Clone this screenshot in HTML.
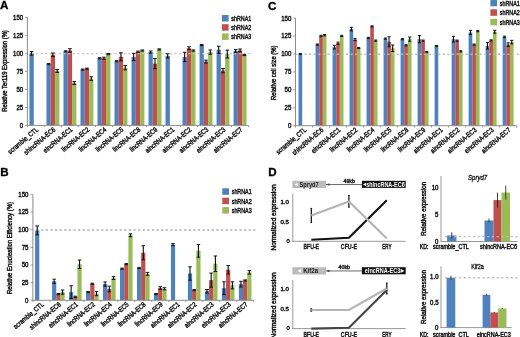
<!DOCTYPE html>
<html><head><meta charset="utf-8"><style>
html,body{margin:0;padding:0;background:#fff;width:520px;height:337px;overflow:hidden;}
svg{display:block;filter:blur(0.3px);font-family:"Liberation Sans",sans-serif;}
</style></head><body>
<svg width="520" height="337" viewBox="0 0 520 337" font-family="Liberation Sans, sans-serif">
<rect width="520" height="337" fill="#fff"/>
<rect x="29.46" y="53.33" width="4.3" height="72.07" fill="#4f81bd"/>
<rect x="46.47" y="64.14" width="4.3" height="61.26" fill="#4f81bd"/>
<rect x="50.77" y="54.77" width="4.3" height="70.63" fill="#c0504d"/>
<rect x="55.07" y="70.99" width="4.3" height="54.41" fill="#9bbb59"/>
<rect x="63.48" y="51.39" width="4.3" height="74.01" fill="#4f81bd"/>
<rect x="67.78" y="50.45" width="4.3" height="74.95" fill="#c0504d"/>
<rect x="72.08" y="83.02" width="4.3" height="42.38" fill="#9bbb59"/>
<rect x="80.48" y="69.62" width="4.3" height="55.78" fill="#4f81bd"/>
<rect x="84.78" y="68.68" width="4.3" height="56.72" fill="#c0504d"/>
<rect x="89.08" y="78.56" width="4.3" height="46.84" fill="#9bbb59"/>
<rect x="97.49" y="58.23" width="4.3" height="67.17" fill="#4f81bd"/>
<rect x="101.79" y="58.23" width="4.3" height="67.17" fill="#c0504d"/>
<rect x="106.09" y="54.13" width="4.3" height="71.27" fill="#9bbb59"/>
<rect x="114.51" y="61.26" width="4.3" height="64.14" fill="#4f81bd"/>
<rect x="118.81" y="56.79" width="4.3" height="68.61" fill="#c0504d"/>
<rect x="123.11" y="67.75" width="4.3" height="57.65" fill="#9bbb59"/>
<rect x="131.52" y="56.94" width="4.3" height="68.46" fill="#4f81bd"/>
<rect x="135.82" y="51.82" width="4.3" height="73.58" fill="#c0504d"/>
<rect x="140.12" y="50.52" width="4.3" height="74.88" fill="#9bbb59"/>
<rect x="148.53" y="52.11" width="4.3" height="73.29" fill="#4f81bd"/>
<rect x="152.83" y="63.57" width="4.3" height="61.83" fill="#c0504d"/>
<rect x="157.13" y="49.44" width="4.3" height="75.96" fill="#9bbb59"/>
<rect x="165.54" y="55.93" width="4.3" height="69.47" fill="#4f81bd"/>
<rect x="182.55" y="56.94" width="4.3" height="68.46" fill="#4f81bd"/>
<rect x="186.85" y="48.22" width="4.3" height="77.18" fill="#c0504d"/>
<rect x="191.15" y="50.52" width="4.3" height="74.88" fill="#9bbb59"/>
<rect x="199.56" y="45.12" width="4.3" height="80.28" fill="#4f81bd"/>
<rect x="203.86" y="61.55" width="4.3" height="63.85" fill="#c0504d"/>
<rect x="208.16" y="52.11" width="4.3" height="73.29" fill="#9bbb59"/>
<rect x="216.57" y="49.8" width="4.3" height="75.6" fill="#4f81bd"/>
<rect x="220.87" y="70.63" width="4.3" height="54.77" fill="#c0504d"/>
<rect x="225.17" y="54.05" width="4.3" height="71.35" fill="#9bbb59"/>
<rect x="233.58" y="51.03" width="4.3" height="74.37" fill="#4f81bd"/>
<rect x="237.88" y="50.45" width="4.3" height="74.95" fill="#c0504d"/>
<rect x="242.18" y="54.99" width="4.3" height="70.41" fill="#9bbb59"/>
<line x1="31.23" y1="53.63" x2="250.25" y2="53.63" stroke="#c2c2c2" stroke-width="1.4" stroke-dasharray="2.1 2.52"/>
<line x1="31.61" y1="51.53" x2="31.61" y2="55.14" stroke="#000" stroke-width="1.05"/>
<line x1="29.8" y1="51.53" x2="33.41" y2="51.53" stroke="#151515" stroke-width="1"/>
<line x1="29.8" y1="55.14" x2="33.41" y2="55.14" stroke="#151515" stroke-width="1"/>
<line x1="48.62" y1="63.57" x2="48.62" y2="64.72" stroke="#000" stroke-width="1.05"/>
<line x1="46.81" y1="63.57" x2="50.42" y2="63.57" stroke="#151515" stroke-width="1"/>
<line x1="46.81" y1="64.72" x2="50.42" y2="64.72" stroke="#151515" stroke-width="1"/>
<line x1="52.91" y1="52.97" x2="52.91" y2="56.58" stroke="#000" stroke-width="1.05"/>
<line x1="51.11" y1="52.97" x2="54.72" y2="52.97" stroke="#151515" stroke-width="1"/>
<line x1="51.11" y1="56.58" x2="54.72" y2="56.58" stroke="#151515" stroke-width="1"/>
<line x1="57.22" y1="69.55" x2="57.22" y2="72.43" stroke="#000" stroke-width="1.05"/>
<line x1="55.41" y1="69.55" x2="59.02" y2="69.55" stroke="#151515" stroke-width="1"/>
<line x1="55.41" y1="72.43" x2="59.02" y2="72.43" stroke="#151515" stroke-width="1"/>
<line x1="65.63" y1="50.81" x2="65.63" y2="51.96" stroke="#000" stroke-width="1.05"/>
<line x1="63.82" y1="50.81" x2="67.43" y2="50.81" stroke="#151515" stroke-width="1"/>
<line x1="63.82" y1="51.96" x2="67.43" y2="51.96" stroke="#151515" stroke-width="1"/>
<line x1="69.93" y1="48.65" x2="69.93" y2="52.25" stroke="#000" stroke-width="1.05"/>
<line x1="68.12" y1="48.65" x2="71.73" y2="48.65" stroke="#151515" stroke-width="1"/>
<line x1="68.12" y1="52.25" x2="71.73" y2="52.25" stroke="#151515" stroke-width="1"/>
<line x1="74.23" y1="81.58" x2="74.23" y2="84.47" stroke="#000" stroke-width="1.05"/>
<line x1="72.42" y1="81.58" x2="76.03" y2="81.58" stroke="#151515" stroke-width="1"/>
<line x1="72.42" y1="84.47" x2="76.03" y2="84.47" stroke="#151515" stroke-width="1"/>
<line x1="82.64" y1="69.04" x2="82.64" y2="70.2" stroke="#000" stroke-width="1.05"/>
<line x1="80.83" y1="69.04" x2="84.44" y2="69.04" stroke="#151515" stroke-width="1"/>
<line x1="80.83" y1="70.2" x2="84.44" y2="70.2" stroke="#151515" stroke-width="1"/>
<line x1="86.94" y1="68.11" x2="86.94" y2="69.26" stroke="#000" stroke-width="1.05"/>
<line x1="85.13" y1="68.11" x2="88.74" y2="68.11" stroke="#151515" stroke-width="1"/>
<line x1="85.13" y1="69.26" x2="88.74" y2="69.26" stroke="#151515" stroke-width="1"/>
<line x1="91.23" y1="76.76" x2="91.23" y2="80.36" stroke="#000" stroke-width="1.05"/>
<line x1="89.43" y1="76.76" x2="93.04" y2="76.76" stroke="#151515" stroke-width="1"/>
<line x1="89.43" y1="80.36" x2="93.04" y2="80.36" stroke="#151515" stroke-width="1"/>
<line x1="99.64" y1="57.66" x2="99.64" y2="58.81" stroke="#000" stroke-width="1.05"/>
<line x1="97.84" y1="57.66" x2="101.45" y2="57.66" stroke="#151515" stroke-width="1"/>
<line x1="97.84" y1="58.81" x2="101.45" y2="58.81" stroke="#151515" stroke-width="1"/>
<line x1="103.94" y1="57.15" x2="103.94" y2="59.31" stroke="#000" stroke-width="1.05"/>
<line x1="102.14" y1="57.15" x2="105.75" y2="57.15" stroke="#151515" stroke-width="1"/>
<line x1="102.14" y1="59.31" x2="105.75" y2="59.31" stroke="#151515" stroke-width="1"/>
<line x1="108.24" y1="53.55" x2="108.24" y2="54.7" stroke="#000" stroke-width="1.05"/>
<line x1="106.44" y1="53.55" x2="110.05" y2="53.55" stroke="#151515" stroke-width="1"/>
<line x1="106.44" y1="54.7" x2="110.05" y2="54.7" stroke="#151515" stroke-width="1"/>
<line x1="116.66" y1="60.68" x2="116.66" y2="61.84" stroke="#000" stroke-width="1.05"/>
<line x1="114.85" y1="60.68" x2="118.46" y2="60.68" stroke="#151515" stroke-width="1"/>
<line x1="114.85" y1="61.84" x2="118.46" y2="61.84" stroke="#151515" stroke-width="1"/>
<line x1="120.96" y1="52.83" x2="120.96" y2="60.76" stroke="#000" stroke-width="1.05"/>
<line x1="119.15" y1="52.83" x2="122.76" y2="52.83" stroke="#151515" stroke-width="1"/>
<line x1="119.15" y1="60.76" x2="122.76" y2="60.76" stroke="#151515" stroke-width="1"/>
<line x1="125.26" y1="65.58" x2="125.26" y2="69.91" stroke="#000" stroke-width="1.05"/>
<line x1="123.45" y1="65.58" x2="127.06" y2="65.58" stroke="#151515" stroke-width="1"/>
<line x1="123.45" y1="69.91" x2="127.06" y2="69.91" stroke="#151515" stroke-width="1"/>
<line x1="133.67" y1="53.33" x2="133.67" y2="60.54" stroke="#000" stroke-width="1.05"/>
<line x1="131.86" y1="53.33" x2="135.47" y2="53.33" stroke="#151515" stroke-width="1"/>
<line x1="131.86" y1="60.54" x2="135.47" y2="60.54" stroke="#151515" stroke-width="1"/>
<line x1="137.97" y1="51.1" x2="137.97" y2="52.54" stroke="#000" stroke-width="1.05"/>
<line x1="136.16" y1="51.1" x2="139.77" y2="51.1" stroke="#151515" stroke-width="1"/>
<line x1="136.16" y1="52.54" x2="139.77" y2="52.54" stroke="#151515" stroke-width="1"/>
<line x1="142.27" y1="49.95" x2="142.27" y2="51.1" stroke="#000" stroke-width="1.05"/>
<line x1="140.46" y1="49.95" x2="144.07" y2="49.95" stroke="#151515" stroke-width="1"/>
<line x1="140.46" y1="51.1" x2="144.07" y2="51.1" stroke="#151515" stroke-width="1"/>
<line x1="150.68" y1="51.03" x2="150.68" y2="53.19" stroke="#000" stroke-width="1.05"/>
<line x1="148.87" y1="51.03" x2="152.48" y2="51.03" stroke="#151515" stroke-width="1"/>
<line x1="148.87" y1="53.19" x2="152.48" y2="53.19" stroke="#151515" stroke-width="1"/>
<line x1="154.98" y1="58.52" x2="154.98" y2="68.61" stroke="#000" stroke-width="1.05"/>
<line x1="153.17" y1="58.52" x2="156.78" y2="58.52" stroke="#151515" stroke-width="1"/>
<line x1="153.17" y1="68.61" x2="156.78" y2="68.61" stroke="#151515" stroke-width="1"/>
<line x1="159.28" y1="48.87" x2="159.28" y2="50.02" stroke="#000" stroke-width="1.05"/>
<line x1="157.47" y1="48.87" x2="161.08" y2="48.87" stroke="#151515" stroke-width="1"/>
<line x1="157.47" y1="50.02" x2="161.08" y2="50.02" stroke="#151515" stroke-width="1"/>
<line x1="167.69" y1="53.77" x2="167.69" y2="58.09" stroke="#000" stroke-width="1.05"/>
<line x1="165.88" y1="53.77" x2="169.49" y2="53.77" stroke="#151515" stroke-width="1"/>
<line x1="165.88" y1="58.09" x2="169.49" y2="58.09" stroke="#151515" stroke-width="1"/>
<line x1="184.7" y1="52.25" x2="184.7" y2="61.62" stroke="#000" stroke-width="1.05"/>
<line x1="182.89" y1="52.25" x2="186.5" y2="52.25" stroke="#151515" stroke-width="1"/>
<line x1="182.89" y1="61.62" x2="186.5" y2="61.62" stroke="#151515" stroke-width="1"/>
<line x1="189" y1="46.78" x2="189" y2="49.66" stroke="#000" stroke-width="1.05"/>
<line x1="187.19" y1="46.78" x2="190.8" y2="46.78" stroke="#151515" stroke-width="1"/>
<line x1="187.19" y1="49.66" x2="190.8" y2="49.66" stroke="#151515" stroke-width="1"/>
<line x1="193.3" y1="49.95" x2="193.3" y2="51.1" stroke="#000" stroke-width="1.05"/>
<line x1="191.49" y1="49.95" x2="195.1" y2="49.95" stroke="#151515" stroke-width="1"/>
<line x1="191.49" y1="51.1" x2="195.1" y2="51.1" stroke="#151515" stroke-width="1"/>
<line x1="201.71" y1="44.54" x2="201.71" y2="45.69" stroke="#000" stroke-width="1.05"/>
<line x1="199.9" y1="44.54" x2="203.51" y2="44.54" stroke="#151515" stroke-width="1"/>
<line x1="199.9" y1="45.69" x2="203.51" y2="45.69" stroke="#151515" stroke-width="1"/>
<line x1="206.01" y1="60.11" x2="206.01" y2="62.99" stroke="#000" stroke-width="1.05"/>
<line x1="204.2" y1="60.11" x2="207.81" y2="60.11" stroke="#151515" stroke-width="1"/>
<line x1="204.2" y1="62.99" x2="207.81" y2="62.99" stroke="#151515" stroke-width="1"/>
<line x1="210.31" y1="49.95" x2="210.31" y2="54.27" stroke="#000" stroke-width="1.05"/>
<line x1="208.5" y1="49.95" x2="212.11" y2="49.95" stroke="#151515" stroke-width="1"/>
<line x1="208.5" y1="54.27" x2="212.11" y2="54.27" stroke="#151515" stroke-width="1"/>
<line x1="218.72" y1="46.2" x2="218.72" y2="53.41" stroke="#000" stroke-width="1.05"/>
<line x1="216.91" y1="46.2" x2="220.52" y2="46.2" stroke="#151515" stroke-width="1"/>
<line x1="216.91" y1="53.41" x2="220.52" y2="53.41" stroke="#151515" stroke-width="1"/>
<line x1="223.02" y1="68.47" x2="223.02" y2="72.79" stroke="#000" stroke-width="1.05"/>
<line x1="221.21" y1="68.47" x2="224.82" y2="68.47" stroke="#151515" stroke-width="1"/>
<line x1="221.21" y1="72.79" x2="224.82" y2="72.79" stroke="#151515" stroke-width="1"/>
<line x1="227.32" y1="50.09" x2="227.32" y2="58.02" stroke="#000" stroke-width="1.05"/>
<line x1="225.51" y1="50.09" x2="229.12" y2="50.09" stroke="#151515" stroke-width="1"/>
<line x1="225.51" y1="58.02" x2="229.12" y2="58.02" stroke="#151515" stroke-width="1"/>
<line x1="235.73" y1="49.59" x2="235.73" y2="52.47" stroke="#000" stroke-width="1.05"/>
<line x1="233.92" y1="49.59" x2="237.53" y2="49.59" stroke="#151515" stroke-width="1"/>
<line x1="233.92" y1="52.47" x2="237.53" y2="52.47" stroke="#151515" stroke-width="1"/>
<line x1="240.03" y1="49.01" x2="240.03" y2="51.89" stroke="#000" stroke-width="1.05"/>
<line x1="238.22" y1="49.01" x2="241.83" y2="49.01" stroke="#151515" stroke-width="1"/>
<line x1="238.22" y1="51.89" x2="241.83" y2="51.89" stroke="#151515" stroke-width="1"/>
<line x1="244.33" y1="54.41" x2="244.33" y2="55.57" stroke="#000" stroke-width="1.05"/>
<line x1="242.52" y1="54.41" x2="246.13" y2="54.41" stroke="#151515" stroke-width="1"/>
<line x1="242.52" y1="55.57" x2="246.13" y2="55.57" stroke="#151515" stroke-width="1"/>
<line x1="27.4" y1="17.3" x2="27.4" y2="125.9" stroke="#8c8c8c" stroke-width="1"/>
<line x1="26.9" y1="125.4" x2="248.53" y2="125.4" stroke="#8c8c8c" stroke-width="1"/>
<line x1="25.1" y1="125.4" x2="27.4" y2="125.4" stroke="#8c8c8c" stroke-width="0.9"/>
<text x="23.2" y="127.8" font-size="6.8" text-anchor="end" fill="#111" font-weight="normal" textLength="3.4" lengthAdjust="spacingAndGlyphs" stroke="#111" stroke-width="0.42">0</text>
<line x1="25.1" y1="107.38" x2="27.4" y2="107.38" stroke="#8c8c8c" stroke-width="0.9"/>
<text x="23.2" y="109.78" font-size="6.8" text-anchor="end" fill="#111" font-weight="normal" textLength="6.8" lengthAdjust="spacingAndGlyphs" stroke="#111" stroke-width="0.42">25</text>
<line x1="25.1" y1="89.37" x2="27.4" y2="89.37" stroke="#8c8c8c" stroke-width="0.9"/>
<text x="23.2" y="91.77" font-size="6.8" text-anchor="end" fill="#111" font-weight="normal" textLength="6.8" lengthAdjust="spacingAndGlyphs" stroke="#111" stroke-width="0.42">50</text>
<line x1="25.1" y1="71.35" x2="27.4" y2="71.35" stroke="#8c8c8c" stroke-width="0.9"/>
<text x="23.2" y="73.75" font-size="6.8" text-anchor="end" fill="#111" font-weight="normal" textLength="6.8" lengthAdjust="spacingAndGlyphs" stroke="#111" stroke-width="0.42">75</text>
<line x1="25.1" y1="53.33" x2="27.4" y2="53.33" stroke="#8c8c8c" stroke-width="0.9"/>
<text x="23.2" y="55.73" font-size="6.8" text-anchor="end" fill="#111" font-weight="normal" textLength="10.2" lengthAdjust="spacingAndGlyphs" stroke="#111" stroke-width="0.42">100</text>
<line x1="25.1" y1="35.32" x2="27.4" y2="35.32" stroke="#8c8c8c" stroke-width="0.9"/>
<text x="23.2" y="37.72" font-size="6.8" text-anchor="end" fill="#111" font-weight="normal" textLength="10.2" lengthAdjust="spacingAndGlyphs" stroke="#111" stroke-width="0.42">125</text>
<line x1="25.1" y1="17.3" x2="27.4" y2="17.3" stroke="#8c8c8c" stroke-width="0.9"/>
<text x="23.2" y="19.7" font-size="6.8" text-anchor="end" fill="#111" font-weight="normal" textLength="10.2" lengthAdjust="spacingAndGlyphs" stroke="#111" stroke-width="0.42">150</text>
<line x1="27.4" y1="125.4" x2="27.4" y2="127.2" stroke="#8c8c8c" stroke-width="0.9"/>
<line x1="44.41" y1="125.4" x2="44.41" y2="127.2" stroke="#8c8c8c" stroke-width="0.9"/>
<line x1="61.42" y1="125.4" x2="61.42" y2="127.2" stroke="#8c8c8c" stroke-width="0.9"/>
<line x1="78.43" y1="125.4" x2="78.43" y2="127.2" stroke="#8c8c8c" stroke-width="0.9"/>
<line x1="95.44" y1="125.4" x2="95.44" y2="127.2" stroke="#8c8c8c" stroke-width="0.9"/>
<line x1="112.45" y1="125.4" x2="112.45" y2="127.2" stroke="#8c8c8c" stroke-width="0.9"/>
<line x1="129.46" y1="125.4" x2="129.46" y2="127.2" stroke="#8c8c8c" stroke-width="0.9"/>
<line x1="146.47" y1="125.4" x2="146.47" y2="127.2" stroke="#8c8c8c" stroke-width="0.9"/>
<line x1="163.48" y1="125.4" x2="163.48" y2="127.2" stroke="#8c8c8c" stroke-width="0.9"/>
<line x1="180.49" y1="125.4" x2="180.49" y2="127.2" stroke="#8c8c8c" stroke-width="0.9"/>
<line x1="197.5" y1="125.4" x2="197.5" y2="127.2" stroke="#8c8c8c" stroke-width="0.9"/>
<line x1="214.51" y1="125.4" x2="214.51" y2="127.2" stroke="#8c8c8c" stroke-width="0.9"/>
<line x1="231.52" y1="125.4" x2="231.52" y2="127.2" stroke="#8c8c8c" stroke-width="0.9"/>
<line x1="248.53" y1="125.4" x2="248.53" y2="127.2" stroke="#8c8c8c" stroke-width="0.9"/>
<text x="38.91" y="130.4" font-size="7" text-anchor="end" fill="#111" font-weight="normal" textLength="37.32" lengthAdjust="spacingAndGlyphs" transform="rotate(-40 38.91 130.4)" stroke="#111" stroke-width="0.42">scramble_CTL</text>
<text x="55.91" y="130.4" font-size="7" text-anchor="end" fill="#111" font-weight="normal" textLength="38.6" lengthAdjust="spacingAndGlyphs" transform="rotate(-40 55.91 130.4)" stroke="#111" stroke-width="0.42">shlncRNA-EC6</text>
<text x="72.93" y="130.4" font-size="7" text-anchor="end" fill="#111" font-weight="normal" textLength="35.73" lengthAdjust="spacingAndGlyphs" transform="rotate(-40 72.93 130.4)" stroke="#111" stroke-width="0.42">elncRNA-EC1</text>
<text x="89.94" y="130.4" font-size="7" text-anchor="end" fill="#111" font-weight="normal" textLength="33.81" lengthAdjust="spacingAndGlyphs" transform="rotate(-40 89.94 130.4)" stroke="#111" stroke-width="0.42">lincRNA-EC2</text>
<text x="106.94" y="130.4" font-size="7" text-anchor="end" fill="#111" font-weight="normal" textLength="33.81" lengthAdjust="spacingAndGlyphs" transform="rotate(-40 106.94 130.4)" stroke="#111" stroke-width="0.42">lincRNA-EC4</text>
<text x="123.96" y="130.4" font-size="7" text-anchor="end" fill="#111" font-weight="normal" textLength="33.81" lengthAdjust="spacingAndGlyphs" transform="rotate(-40 123.96 130.4)" stroke="#111" stroke-width="0.42">lincRNA-EC5</text>
<text x="140.97" y="130.4" font-size="7" text-anchor="end" fill="#111" font-weight="normal" textLength="33.81" lengthAdjust="spacingAndGlyphs" transform="rotate(-40 140.97 130.4)" stroke="#111" stroke-width="0.42">lincRNA-EC8</text>
<text x="157.98" y="130.4" font-size="7" text-anchor="end" fill="#111" font-weight="normal" textLength="33.81" lengthAdjust="spacingAndGlyphs" transform="rotate(-40 157.98 130.4)" stroke="#111" stroke-width="0.42">lincRNA-EC9</text>
<text x="174.99" y="130.4" font-size="7" text-anchor="end" fill="#111" font-weight="normal" textLength="35.73" lengthAdjust="spacingAndGlyphs" transform="rotate(-40 174.99 130.4)" stroke="#111" stroke-width="0.42">alncRNA-EC1</text>
<text x="192" y="130.4" font-size="7" text-anchor="end" fill="#111" font-weight="normal" textLength="35.73" lengthAdjust="spacingAndGlyphs" transform="rotate(-40 192 130.4)" stroke="#111" stroke-width="0.42">alncRNA-EC2</text>
<text x="209.01" y="130.4" font-size="7" text-anchor="end" fill="#111" font-weight="normal" textLength="35.73" lengthAdjust="spacingAndGlyphs" transform="rotate(-40 209.01 130.4)" stroke="#111" stroke-width="0.42">alncRNA-EC3</text>
<text x="226.02" y="130.4" font-size="7" text-anchor="end" fill="#111" font-weight="normal" textLength="35.73" lengthAdjust="spacingAndGlyphs" transform="rotate(-40 226.02 130.4)" stroke="#111" stroke-width="0.42">elncRNA-EC3</text>
<text x="243.03" y="130.4" font-size="7" text-anchor="end" fill="#111" font-weight="normal" textLength="35.73" lengthAdjust="spacingAndGlyphs" transform="rotate(-40 243.03 130.4)" stroke="#111" stroke-width="0.42">alncRNA-EC7</text>
<text x="6.7" y="70.95" font-size="6.9" text-anchor="middle" fill="#111" font-weight="normal" textLength="81.5" lengthAdjust="spacingAndGlyphs" transform="rotate(-90 6.7 70.95)" stroke="#111" stroke-width="0.42">Relative Ter119 Expression (%)</text>
<rect x="221.9" y="15" width="6.7" height="6.5" fill="#4f81bd"/>
<text x="231.3" y="20.9" font-size="6.8" text-anchor="start" fill="#111" font-weight="normal" textLength="20" lengthAdjust="spacingAndGlyphs" stroke="#111" stroke-width="0.42">shRNA1</text>
<rect x="221.9" y="24.2" width="6.7" height="6.5" fill="#c0504d"/>
<text x="231.3" y="30.1" font-size="6.8" text-anchor="start" fill="#111" font-weight="normal" textLength="20" lengthAdjust="spacingAndGlyphs" stroke="#111" stroke-width="0.42">shRNA2</text>
<rect x="221.9" y="33.4" width="6.7" height="6.5" fill="#9bbb59"/>
<text x="231.3" y="39.3" font-size="6.8" text-anchor="start" fill="#111" font-weight="normal" textLength="20" lengthAdjust="spacingAndGlyphs" stroke="#111" stroke-width="0.42">shRNA3</text>
<text x="0" y="9.4" font-size="11.6" text-anchor="start" fill="#000" font-weight="bold" textLength="8.38" lengthAdjust="spacingAndGlyphs" stroke="#000" stroke-width="0.3">A</text>
<rect x="35.09" y="230.41" width="4.2" height="69.89" fill="#4f81bd"/>
<rect x="52.07" y="281.31" width="4.2" height="18.99" fill="#4f81bd"/>
<rect x="56.27" y="294.09" width="4.2" height="6.21" fill="#c0504d"/>
<rect x="60.47" y="292.11" width="4.2" height="8.19" fill="#9bbb59"/>
<rect x="69.05" y="292.11" width="4.2" height="8.19" fill="#4f81bd"/>
<rect x="73.25" y="296.77" width="4.2" height="3.53" fill="#c0504d"/>
<rect x="77.45" y="264.29" width="4.2" height="36.01" fill="#9bbb59"/>
<rect x="86.03" y="292.11" width="4.2" height="8.19" fill="#4f81bd"/>
<rect x="90.23" y="283.78" width="4.2" height="16.52" fill="#c0504d"/>
<rect x="94.43" y="293.59" width="4.2" height="6.71" fill="#9bbb59"/>
<rect x="103.01" y="284.06" width="4.2" height="16.24" fill="#4f81bd"/>
<rect x="107.21" y="289" width="4.2" height="11.3" fill="#c0504d"/>
<rect x="111.41" y="278.06" width="4.2" height="22.24" fill="#9bbb59"/>
<rect x="119.99" y="268.67" width="4.2" height="31.63" fill="#4f81bd"/>
<rect x="124.19" y="264.15" width="4.2" height="36.15" fill="#c0504d"/>
<rect x="128.39" y="235.28" width="4.2" height="65.02" fill="#9bbb59"/>
<rect x="136.97" y="267.97" width="4.2" height="32.33" fill="#4f81bd"/>
<rect x="141.17" y="252.79" width="4.2" height="47.51" fill="#c0504d"/>
<rect x="145.37" y="273.82" width="4.2" height="26.48" fill="#9bbb59"/>
<rect x="153.95" y="294.09" width="4.2" height="6.21" fill="#4f81bd"/>
<rect x="158.15" y="288.09" width="4.2" height="12.21" fill="#c0504d"/>
<rect x="162.35" y="288.79" width="4.2" height="11.51" fill="#9bbb59"/>
<rect x="170.93" y="244.67" width="4.2" height="55.63" fill="#4f81bd"/>
<rect x="187.91" y="273.47" width="4.2" height="26.83" fill="#4f81bd"/>
<rect x="192.11" y="290.13" width="4.2" height="10.17" fill="#c0504d"/>
<rect x="196.31" y="250.88" width="4.2" height="49.42" fill="#9bbb59"/>
<rect x="204.89" y="291.26" width="4.2" height="9.04" fill="#4f81bd"/>
<rect x="209.09" y="280.11" width="4.2" height="20.19" fill="#c0504d"/>
<rect x="213.29" y="263.73" width="4.2" height="36.57" fill="#9bbb59"/>
<rect x="221.87" y="288.23" width="4.2" height="12.07" fill="#4f81bd"/>
<rect x="226.07" y="269.73" width="4.2" height="30.57" fill="#c0504d"/>
<rect x="230.27" y="285.33" width="4.2" height="14.97" fill="#9bbb59"/>
<rect x="238.85" y="284.13" width="4.2" height="16.17" fill="#4f81bd"/>
<rect x="243.05" y="280.46" width="4.2" height="19.84" fill="#c0504d"/>
<rect x="247.25" y="272.34" width="4.2" height="27.96" fill="#9bbb59"/>
<line x1="36.64" y1="230" x2="255.35" y2="230" stroke="#acacac" stroke-width="1.4" stroke-dasharray="2.1 2.51"/>
<line x1="37.19" y1="225.96" x2="37.19" y2="234.85" stroke="#000" stroke-width="1.05"/>
<line x1="35.43" y1="225.96" x2="38.95" y2="225.96" stroke="#151515" stroke-width="1"/>
<line x1="35.43" y1="234.85" x2="38.95" y2="234.85" stroke="#151515" stroke-width="1"/>
<line x1="54.17" y1="279.19" x2="54.17" y2="283.43" stroke="#000" stroke-width="1.05"/>
<line x1="52.41" y1="279.19" x2="55.93" y2="279.19" stroke="#151515" stroke-width="1"/>
<line x1="52.41" y1="283.43" x2="55.93" y2="283.43" stroke="#151515" stroke-width="1"/>
<line x1="58.37" y1="293.52" x2="58.37" y2="294.65" stroke="#000" stroke-width="1.05"/>
<line x1="56.61" y1="293.52" x2="60.13" y2="293.52" stroke="#151515" stroke-width="1"/>
<line x1="56.61" y1="294.65" x2="60.13" y2="294.65" stroke="#151515" stroke-width="1"/>
<line x1="62.57" y1="289.99" x2="62.57" y2="294.23" stroke="#000" stroke-width="1.05"/>
<line x1="60.81" y1="289.99" x2="64.33" y2="289.99" stroke="#151515" stroke-width="1"/>
<line x1="60.81" y1="294.23" x2="64.33" y2="294.23" stroke="#151515" stroke-width="1"/>
<line x1="71.15" y1="285.76" x2="71.15" y2="298.46" stroke="#000" stroke-width="1.05"/>
<line x1="69.39" y1="285.76" x2="72.91" y2="285.76" stroke="#151515" stroke-width="1"/>
<line x1="69.39" y1="298.46" x2="72.91" y2="298.46" stroke="#151515" stroke-width="1"/>
<line x1="75.35" y1="296.21" x2="75.35" y2="297.33" stroke="#000" stroke-width="1.05"/>
<line x1="73.59" y1="296.21" x2="77.11" y2="296.21" stroke="#151515" stroke-width="1"/>
<line x1="73.59" y1="297.33" x2="77.11" y2="297.33" stroke="#151515" stroke-width="1"/>
<line x1="79.55" y1="260.06" x2="79.55" y2="268.53" stroke="#000" stroke-width="1.05"/>
<line x1="77.79" y1="260.06" x2="81.31" y2="260.06" stroke="#151515" stroke-width="1"/>
<line x1="77.79" y1="268.53" x2="81.31" y2="268.53" stroke="#151515" stroke-width="1"/>
<line x1="88.13" y1="291.55" x2="88.13" y2="292.68" stroke="#000" stroke-width="1.05"/>
<line x1="86.37" y1="291.55" x2="89.89" y2="291.55" stroke="#151515" stroke-width="1"/>
<line x1="86.37" y1="292.68" x2="89.89" y2="292.68" stroke="#151515" stroke-width="1"/>
<line x1="92.33" y1="283.21" x2="92.33" y2="284.34" stroke="#000" stroke-width="1.05"/>
<line x1="90.57" y1="283.21" x2="94.09" y2="283.21" stroke="#151515" stroke-width="1"/>
<line x1="90.57" y1="284.34" x2="94.09" y2="284.34" stroke="#151515" stroke-width="1"/>
<line x1="96.53" y1="291.48" x2="96.53" y2="295.71" stroke="#000" stroke-width="1.05"/>
<line x1="94.77" y1="291.48" x2="98.29" y2="291.48" stroke="#151515" stroke-width="1"/>
<line x1="94.77" y1="295.71" x2="98.29" y2="295.71" stroke="#151515" stroke-width="1"/>
<line x1="105.11" y1="281.94" x2="105.11" y2="286.18" stroke="#000" stroke-width="1.05"/>
<line x1="103.35" y1="281.94" x2="106.87" y2="281.94" stroke="#151515" stroke-width="1"/>
<line x1="103.35" y1="286.18" x2="106.87" y2="286.18" stroke="#151515" stroke-width="1"/>
<line x1="109.31" y1="286.18" x2="109.31" y2="291.83" stroke="#000" stroke-width="1.05"/>
<line x1="107.55" y1="286.18" x2="111.07" y2="286.18" stroke="#151515" stroke-width="1"/>
<line x1="107.55" y1="291.83" x2="111.07" y2="291.83" stroke="#151515" stroke-width="1"/>
<line x1="113.51" y1="276.65" x2="113.51" y2="279.47" stroke="#000" stroke-width="1.05"/>
<line x1="111.75" y1="276.65" x2="115.27" y2="276.65" stroke="#151515" stroke-width="1"/>
<line x1="111.75" y1="279.47" x2="115.27" y2="279.47" stroke="#151515" stroke-width="1"/>
<line x1="122.09" y1="268.11" x2="122.09" y2="269.24" stroke="#000" stroke-width="1.05"/>
<line x1="120.33" y1="268.11" x2="123.85" y2="268.11" stroke="#151515" stroke-width="1"/>
<line x1="120.33" y1="269.24" x2="123.85" y2="269.24" stroke="#151515" stroke-width="1"/>
<line x1="126.29" y1="263.59" x2="126.29" y2="264.72" stroke="#000" stroke-width="1.05"/>
<line x1="124.53" y1="263.59" x2="128.05" y2="263.59" stroke="#151515" stroke-width="1"/>
<line x1="124.53" y1="264.72" x2="128.05" y2="264.72" stroke="#151515" stroke-width="1"/>
<line x1="130.49" y1="233.87" x2="130.49" y2="236.69" stroke="#000" stroke-width="1.05"/>
<line x1="128.73" y1="233.87" x2="132.25" y2="233.87" stroke="#151515" stroke-width="1"/>
<line x1="128.73" y1="236.69" x2="132.25" y2="236.69" stroke="#151515" stroke-width="1"/>
<line x1="139.07" y1="267.4" x2="139.07" y2="268.53" stroke="#000" stroke-width="1.05"/>
<line x1="137.31" y1="267.4" x2="140.83" y2="267.4" stroke="#151515" stroke-width="1"/>
<line x1="137.31" y1="268.53" x2="140.83" y2="268.53" stroke="#151515" stroke-width="1"/>
<line x1="143.27" y1="245.73" x2="143.27" y2="259.85" stroke="#000" stroke-width="1.05"/>
<line x1="141.51" y1="245.73" x2="145.03" y2="245.73" stroke="#151515" stroke-width="1"/>
<line x1="141.51" y1="259.85" x2="145.03" y2="259.85" stroke="#151515" stroke-width="1"/>
<line x1="147.47" y1="272.41" x2="147.47" y2="275.24" stroke="#000" stroke-width="1.05"/>
<line x1="145.71" y1="272.41" x2="149.23" y2="272.41" stroke="#151515" stroke-width="1"/>
<line x1="145.71" y1="275.24" x2="149.23" y2="275.24" stroke="#151515" stroke-width="1"/>
<line x1="156.05" y1="293.52" x2="156.05" y2="294.65" stroke="#000" stroke-width="1.05"/>
<line x1="154.29" y1="293.52" x2="157.81" y2="293.52" stroke="#151515" stroke-width="1"/>
<line x1="154.29" y1="294.65" x2="157.81" y2="294.65" stroke="#151515" stroke-width="1"/>
<line x1="160.25" y1="286.67" x2="160.25" y2="289.5" stroke="#000" stroke-width="1.05"/>
<line x1="158.49" y1="286.67" x2="162.01" y2="286.67" stroke="#151515" stroke-width="1"/>
<line x1="158.49" y1="289.5" x2="162.01" y2="289.5" stroke="#151515" stroke-width="1"/>
<line x1="164.45" y1="287.73" x2="164.45" y2="289.85" stroke="#000" stroke-width="1.05"/>
<line x1="162.69" y1="287.73" x2="166.21" y2="287.73" stroke="#151515" stroke-width="1"/>
<line x1="162.69" y1="289.85" x2="166.21" y2="289.85" stroke="#151515" stroke-width="1"/>
<line x1="173.03" y1="243.61" x2="173.03" y2="245.73" stroke="#000" stroke-width="1.05"/>
<line x1="171.27" y1="243.61" x2="174.79" y2="243.61" stroke="#151515" stroke-width="1"/>
<line x1="171.27" y1="245.73" x2="174.79" y2="245.73" stroke="#151515" stroke-width="1"/>
<line x1="190.01" y1="266.76" x2="190.01" y2="280.18" stroke="#000" stroke-width="1.05"/>
<line x1="188.25" y1="266.76" x2="191.77" y2="266.76" stroke="#151515" stroke-width="1"/>
<line x1="188.25" y1="280.18" x2="191.77" y2="280.18" stroke="#151515" stroke-width="1"/>
<line x1="194.21" y1="289.57" x2="194.21" y2="290.7" stroke="#000" stroke-width="1.05"/>
<line x1="192.45" y1="289.57" x2="195.97" y2="289.57" stroke="#151515" stroke-width="1"/>
<line x1="192.45" y1="290.7" x2="195.97" y2="290.7" stroke="#151515" stroke-width="1"/>
<line x1="198.41" y1="244.53" x2="198.41" y2="257.23" stroke="#000" stroke-width="1.05"/>
<line x1="196.65" y1="244.53" x2="200.17" y2="244.53" stroke="#151515" stroke-width="1"/>
<line x1="196.65" y1="257.23" x2="200.17" y2="257.23" stroke="#151515" stroke-width="1"/>
<line x1="206.99" y1="289.5" x2="206.99" y2="293.03" stroke="#000" stroke-width="1.05"/>
<line x1="205.23" y1="289.5" x2="208.75" y2="289.5" stroke="#151515" stroke-width="1"/>
<line x1="205.23" y1="293.03" x2="208.75" y2="293.03" stroke="#151515" stroke-width="1"/>
<line x1="211.19" y1="273.05" x2="211.19" y2="287.17" stroke="#000" stroke-width="1.05"/>
<line x1="209.43" y1="273.05" x2="212.95" y2="273.05" stroke="#151515" stroke-width="1"/>
<line x1="209.43" y1="287.17" x2="212.95" y2="287.17" stroke="#151515" stroke-width="1"/>
<line x1="215.39" y1="255.96" x2="215.39" y2="271.5" stroke="#000" stroke-width="1.05"/>
<line x1="213.63" y1="255.96" x2="217.15" y2="255.96" stroke="#151515" stroke-width="1"/>
<line x1="213.63" y1="271.5" x2="217.15" y2="271.5" stroke="#151515" stroke-width="1"/>
<line x1="223.97" y1="281.87" x2="223.97" y2="294.58" stroke="#000" stroke-width="1.05"/>
<line x1="222.21" y1="281.87" x2="225.73" y2="281.87" stroke="#151515" stroke-width="1"/>
<line x1="222.21" y1="294.58" x2="225.73" y2="294.58" stroke="#151515" stroke-width="1"/>
<line x1="228.17" y1="265.49" x2="228.17" y2="273.97" stroke="#000" stroke-width="1.05"/>
<line x1="226.41" y1="265.49" x2="229.93" y2="265.49" stroke="#151515" stroke-width="1"/>
<line x1="226.41" y1="273.97" x2="229.93" y2="273.97" stroke="#151515" stroke-width="1"/>
<line x1="232.37" y1="281.8" x2="232.37" y2="288.86" stroke="#000" stroke-width="1.05"/>
<line x1="230.61" y1="281.8" x2="234.13" y2="281.8" stroke="#151515" stroke-width="1"/>
<line x1="230.61" y1="288.86" x2="234.13" y2="288.86" stroke="#151515" stroke-width="1"/>
<line x1="240.95" y1="281.31" x2="240.95" y2="286.96" stroke="#000" stroke-width="1.05"/>
<line x1="239.19" y1="281.31" x2="242.71" y2="281.31" stroke="#151515" stroke-width="1"/>
<line x1="239.19" y1="286.96" x2="242.71" y2="286.96" stroke="#151515" stroke-width="1"/>
<line x1="245.15" y1="279.9" x2="245.15" y2="281.03" stroke="#000" stroke-width="1.05"/>
<line x1="243.39" y1="279.9" x2="246.91" y2="279.9" stroke="#151515" stroke-width="1"/>
<line x1="243.39" y1="281.03" x2="246.91" y2="281.03" stroke="#151515" stroke-width="1"/>
<line x1="249.35" y1="270.58" x2="249.35" y2="274.11" stroke="#000" stroke-width="1.05"/>
<line x1="247.59" y1="270.58" x2="251.11" y2="270.58" stroke="#151515" stroke-width="1"/>
<line x1="247.59" y1="274.11" x2="251.11" y2="274.11" stroke="#151515" stroke-width="1"/>
<line x1="32.9" y1="194.4" x2="32.9" y2="300.8" stroke="#8c8c8c" stroke-width="1"/>
<line x1="32.4" y1="300.3" x2="253.64" y2="300.3" stroke="#8c8c8c" stroke-width="1"/>
<line x1="30.6" y1="300.3" x2="32.9" y2="300.3" stroke="#8c8c8c" stroke-width="0.9"/>
<text x="28.5" y="302.7" font-size="6.8" text-anchor="end" fill="#111" font-weight="normal" textLength="3.4" lengthAdjust="spacingAndGlyphs" stroke="#111" stroke-width="0.42">0</text>
<line x1="30.6" y1="282.65" x2="32.9" y2="282.65" stroke="#8c8c8c" stroke-width="0.9"/>
<text x="28.5" y="285.05" font-size="6.8" text-anchor="end" fill="#111" font-weight="normal" textLength="6.8" lengthAdjust="spacingAndGlyphs" stroke="#111" stroke-width="0.42">25</text>
<line x1="30.6" y1="265" x2="32.9" y2="265" stroke="#8c8c8c" stroke-width="0.9"/>
<text x="28.5" y="267.4" font-size="6.8" text-anchor="end" fill="#111" font-weight="normal" textLength="6.8" lengthAdjust="spacingAndGlyphs" stroke="#111" stroke-width="0.42">50</text>
<line x1="30.6" y1="247.35" x2="32.9" y2="247.35" stroke="#8c8c8c" stroke-width="0.9"/>
<text x="28.5" y="249.75" font-size="6.8" text-anchor="end" fill="#111" font-weight="normal" textLength="6.8" lengthAdjust="spacingAndGlyphs" stroke="#111" stroke-width="0.42">75</text>
<line x1="30.6" y1="229.7" x2="32.9" y2="229.7" stroke="#8c8c8c" stroke-width="0.9"/>
<text x="28.5" y="232.1" font-size="6.8" text-anchor="end" fill="#111" font-weight="normal" textLength="10.2" lengthAdjust="spacingAndGlyphs" stroke="#111" stroke-width="0.42">100</text>
<line x1="30.6" y1="212.05" x2="32.9" y2="212.05" stroke="#8c8c8c" stroke-width="0.9"/>
<text x="28.5" y="214.45" font-size="6.8" text-anchor="end" fill="#111" font-weight="normal" textLength="10.2" lengthAdjust="spacingAndGlyphs" stroke="#111" stroke-width="0.42">125</text>
<line x1="30.6" y1="194.4" x2="32.9" y2="194.4" stroke="#8c8c8c" stroke-width="0.9"/>
<text x="28.5" y="196.8" font-size="6.8" text-anchor="end" fill="#111" font-weight="normal" textLength="10.2" lengthAdjust="spacingAndGlyphs" stroke="#111" stroke-width="0.42">150</text>
<line x1="32.9" y1="300.3" x2="32.9" y2="302.1" stroke="#8c8c8c" stroke-width="0.9"/>
<line x1="49.88" y1="300.3" x2="49.88" y2="302.1" stroke="#8c8c8c" stroke-width="0.9"/>
<line x1="66.86" y1="300.3" x2="66.86" y2="302.1" stroke="#8c8c8c" stroke-width="0.9"/>
<line x1="83.84" y1="300.3" x2="83.84" y2="302.1" stroke="#8c8c8c" stroke-width="0.9"/>
<line x1="100.82" y1="300.3" x2="100.82" y2="302.1" stroke="#8c8c8c" stroke-width="0.9"/>
<line x1="117.8" y1="300.3" x2="117.8" y2="302.1" stroke="#8c8c8c" stroke-width="0.9"/>
<line x1="134.78" y1="300.3" x2="134.78" y2="302.1" stroke="#8c8c8c" stroke-width="0.9"/>
<line x1="151.76" y1="300.3" x2="151.76" y2="302.1" stroke="#8c8c8c" stroke-width="0.9"/>
<line x1="168.74" y1="300.3" x2="168.74" y2="302.1" stroke="#8c8c8c" stroke-width="0.9"/>
<line x1="185.72" y1="300.3" x2="185.72" y2="302.1" stroke="#8c8c8c" stroke-width="0.9"/>
<line x1="202.7" y1="300.3" x2="202.7" y2="302.1" stroke="#8c8c8c" stroke-width="0.9"/>
<line x1="219.68" y1="300.3" x2="219.68" y2="302.1" stroke="#8c8c8c" stroke-width="0.9"/>
<line x1="236.66" y1="300.3" x2="236.66" y2="302.1" stroke="#8c8c8c" stroke-width="0.9"/>
<line x1="253.64" y1="300.3" x2="253.64" y2="302.1" stroke="#8c8c8c" stroke-width="0.9"/>
<text x="44.39" y="305.3" font-size="7" text-anchor="end" fill="#111" font-weight="normal" textLength="37.32" lengthAdjust="spacingAndGlyphs" transform="rotate(-40 44.39 305.3)" stroke="#111" stroke-width="0.42">scramble_CTL</text>
<text x="61.37" y="305.3" font-size="7" text-anchor="end" fill="#111" font-weight="normal" textLength="38.6" lengthAdjust="spacingAndGlyphs" transform="rotate(-40 61.37 305.3)" stroke="#111" stroke-width="0.42">shlncRNA-EC6</text>
<text x="78.35" y="305.3" font-size="7" text-anchor="end" fill="#111" font-weight="normal" textLength="35.73" lengthAdjust="spacingAndGlyphs" transform="rotate(-40 78.35 305.3)" stroke="#111" stroke-width="0.42">elncRNA-EC1</text>
<text x="95.33" y="305.3" font-size="7" text-anchor="end" fill="#111" font-weight="normal" textLength="33.81" lengthAdjust="spacingAndGlyphs" transform="rotate(-40 95.33 305.3)" stroke="#111" stroke-width="0.42">lincRNA-EC2</text>
<text x="112.31" y="305.3" font-size="7" text-anchor="end" fill="#111" font-weight="normal" textLength="33.81" lengthAdjust="spacingAndGlyphs" transform="rotate(-40 112.31 305.3)" stroke="#111" stroke-width="0.42">lincRNA-EC4</text>
<text x="129.29" y="305.3" font-size="7" text-anchor="end" fill="#111" font-weight="normal" textLength="33.81" lengthAdjust="spacingAndGlyphs" transform="rotate(-40 129.29 305.3)" stroke="#111" stroke-width="0.42">lincRNA-EC5</text>
<text x="146.27" y="305.3" font-size="7" text-anchor="end" fill="#111" font-weight="normal" textLength="33.81" lengthAdjust="spacingAndGlyphs" transform="rotate(-40 146.27 305.3)" stroke="#111" stroke-width="0.42">lincRNA-EC8</text>
<text x="163.25" y="305.3" font-size="7" text-anchor="end" fill="#111" font-weight="normal" textLength="33.81" lengthAdjust="spacingAndGlyphs" transform="rotate(-40 163.25 305.3)" stroke="#111" stroke-width="0.42">lincRNA-EC9</text>
<text x="180.23" y="305.3" font-size="7" text-anchor="end" fill="#111" font-weight="normal" textLength="35.73" lengthAdjust="spacingAndGlyphs" transform="rotate(-40 180.23 305.3)" stroke="#111" stroke-width="0.42">alncRNA-EC1</text>
<text x="197.21" y="305.3" font-size="7" text-anchor="end" fill="#111" font-weight="normal" textLength="35.73" lengthAdjust="spacingAndGlyphs" transform="rotate(-40 197.21 305.3)" stroke="#111" stroke-width="0.42">alncRNA-EC2</text>
<text x="214.19" y="305.3" font-size="7" text-anchor="end" fill="#111" font-weight="normal" textLength="35.73" lengthAdjust="spacingAndGlyphs" transform="rotate(-40 214.19 305.3)" stroke="#111" stroke-width="0.42">alncRNA-EC3</text>
<text x="231.17" y="305.3" font-size="7" text-anchor="end" fill="#111" font-weight="normal" textLength="35.73" lengthAdjust="spacingAndGlyphs" transform="rotate(-40 231.17 305.3)" stroke="#111" stroke-width="0.42">elncRNA-EC3</text>
<text x="248.15" y="305.3" font-size="7" text-anchor="end" fill="#111" font-weight="normal" textLength="35.73" lengthAdjust="spacingAndGlyphs" transform="rotate(-40 248.15 305.3)" stroke="#111" stroke-width="0.42">alncRNA-EC7</text>
<text x="12.5" y="248.05" font-size="6.9" text-anchor="middle" fill="#111" font-weight="normal" textLength="92" lengthAdjust="spacingAndGlyphs" transform="rotate(-90 12.5 248.05)" stroke="#111" stroke-width="0.42">Relative Enucleation Efficiency (%)</text>
<rect x="222.3" y="188.3" width="6.7" height="6.5" fill="#4f81bd"/>
<text x="231.7" y="194.2" font-size="6.8" text-anchor="start" fill="#111" font-weight="normal" textLength="20" lengthAdjust="spacingAndGlyphs" stroke="#111" stroke-width="0.42">shRNA1</text>
<rect x="222.3" y="197.7" width="6.7" height="6.5" fill="#c0504d"/>
<text x="231.7" y="203.6" font-size="6.8" text-anchor="start" fill="#111" font-weight="normal" textLength="20" lengthAdjust="spacingAndGlyphs" stroke="#111" stroke-width="0.42">shRNA2</text>
<rect x="222.3" y="207.1" width="6.7" height="6.5" fill="#9bbb59"/>
<text x="231.7" y="213" font-size="6.8" text-anchor="start" fill="#111" font-weight="normal" textLength="20" lengthAdjust="spacingAndGlyphs" stroke="#111" stroke-width="0.42">shRNA3</text>
<text x="0.2" y="176.3" font-size="11.6" text-anchor="start" fill="#000" font-weight="bold" textLength="8.38" lengthAdjust="spacingAndGlyphs" stroke="#000" stroke-width="0.3">B</text>
<rect x="298.53" y="53.97" width="3.65" height="71.73" fill="#4f81bd"/>
<rect x="315.54" y="44.57" width="3.65" height="81.13" fill="#4f81bd"/>
<rect x="319.19" y="35.89" width="3.65" height="89.81" fill="#c0504d"/>
<rect x="322.84" y="35.17" width="3.65" height="90.53" fill="#9bbb59"/>
<rect x="332.55" y="47.15" width="3.65" height="78.55" fill="#4f81bd"/>
<rect x="336.2" y="43.21" width="3.65" height="82.49" fill="#c0504d"/>
<rect x="339.85" y="35.89" width="3.65" height="89.81" fill="#9bbb59"/>
<rect x="349.56" y="29.08" width="3.65" height="96.62" fill="#4f81bd"/>
<rect x="353.21" y="39.48" width="3.65" height="86.22" fill="#c0504d"/>
<rect x="356.86" y="48.01" width="3.65" height="77.69" fill="#9bbb59"/>
<rect x="366.57" y="37.9" width="3.65" height="87.8" fill="#4f81bd"/>
<rect x="370.22" y="26.42" width="3.65" height="99.28" fill="#c0504d"/>
<rect x="373.87" y="40.62" width="3.65" height="85.08" fill="#9bbb59"/>
<rect x="383.58" y="38.62" width="3.65" height="87.08" fill="#4f81bd"/>
<rect x="387.23" y="41.77" width="3.65" height="83.93" fill="#c0504d"/>
<rect x="390.88" y="48.23" width="3.65" height="77.47" fill="#9bbb59"/>
<rect x="400.59" y="39.19" width="3.65" height="86.51" fill="#4f81bd"/>
<rect x="404.24" y="45.29" width="3.65" height="80.41" fill="#c0504d"/>
<rect x="407.89" y="39.19" width="3.65" height="86.51" fill="#9bbb59"/>
<rect x="417.6" y="39.19" width="3.65" height="86.51" fill="#4f81bd"/>
<rect x="421.25" y="40.62" width="3.65" height="85.08" fill="#c0504d"/>
<rect x="424.9" y="52.03" width="3.65" height="73.67" fill="#9bbb59"/>
<rect x="434.61" y="46" width="3.65" height="79.7" fill="#4f81bd"/>
<rect x="451.62" y="39.19" width="3.65" height="86.51" fill="#4f81bd"/>
<rect x="455.27" y="40.62" width="3.65" height="85.08" fill="#c0504d"/>
<rect x="458.92" y="51.31" width="3.65" height="74.39" fill="#9bbb59"/>
<rect x="468.63" y="32.52" width="3.65" height="93.18" fill="#4f81bd"/>
<rect x="472.28" y="44.57" width="3.65" height="81.13" fill="#c0504d"/>
<rect x="475.93" y="31.16" width="3.65" height="94.54" fill="#9bbb59"/>
<rect x="485.64" y="45.79" width="3.65" height="79.91" fill="#4f81bd"/>
<rect x="489.29" y="40.41" width="3.65" height="85.29" fill="#c0504d"/>
<rect x="492.94" y="31.73" width="3.65" height="93.97" fill="#9bbb59"/>
<rect x="502.65" y="36.89" width="3.65" height="88.81" fill="#4f81bd"/>
<rect x="506.3" y="44.64" width="3.65" height="81.06" fill="#c0504d"/>
<rect x="509.95" y="42.13" width="3.65" height="83.57" fill="#9bbb59"/>
<line x1="295.25" y1="54.27" x2="518.75" y2="54.27" stroke="#bbbbbb" stroke-width="1.4" stroke-dasharray="2.1 2.51"/>
<line x1="300.35" y1="53.39" x2="300.35" y2="54.54" stroke="#000" stroke-width="1.05"/>
<line x1="298.82" y1="53.39" x2="301.89" y2="53.39" stroke="#151515" stroke-width="1"/>
<line x1="298.82" y1="54.54" x2="301.89" y2="54.54" stroke="#151515" stroke-width="1"/>
<line x1="317.36" y1="44" x2="317.36" y2="45.14" stroke="#000" stroke-width="1.05"/>
<line x1="315.83" y1="44" x2="318.9" y2="44" stroke="#151515" stroke-width="1"/>
<line x1="315.83" y1="45.14" x2="318.9" y2="45.14" stroke="#151515" stroke-width="1"/>
<line x1="321.01" y1="35.32" x2="321.01" y2="36.46" stroke="#000" stroke-width="1.05"/>
<line x1="319.48" y1="35.32" x2="322.55" y2="35.32" stroke="#151515" stroke-width="1"/>
<line x1="319.48" y1="36.46" x2="322.55" y2="36.46" stroke="#151515" stroke-width="1"/>
<line x1="324.66" y1="34.46" x2="324.66" y2="35.89" stroke="#000" stroke-width="1.05"/>
<line x1="323.13" y1="34.46" x2="326.2" y2="34.46" stroke="#151515" stroke-width="1"/>
<line x1="323.13" y1="35.89" x2="326.2" y2="35.89" stroke="#151515" stroke-width="1"/>
<line x1="334.37" y1="45.36" x2="334.37" y2="48.95" stroke="#000" stroke-width="1.05"/>
<line x1="332.84" y1="45.36" x2="335.91" y2="45.36" stroke="#151515" stroke-width="1"/>
<line x1="332.84" y1="48.95" x2="335.91" y2="48.95" stroke="#151515" stroke-width="1"/>
<line x1="338.02" y1="42.13" x2="338.02" y2="44.28" stroke="#000" stroke-width="1.05"/>
<line x1="336.49" y1="42.13" x2="339.56" y2="42.13" stroke="#151515" stroke-width="1"/>
<line x1="336.49" y1="44.28" x2="339.56" y2="44.28" stroke="#151515" stroke-width="1"/>
<line x1="341.67" y1="35.32" x2="341.67" y2="36.46" stroke="#000" stroke-width="1.05"/>
<line x1="340.14" y1="35.32" x2="343.21" y2="35.32" stroke="#151515" stroke-width="1"/>
<line x1="340.14" y1="36.46" x2="343.21" y2="36.46" stroke="#151515" stroke-width="1"/>
<line x1="351.38" y1="27.28" x2="351.38" y2="30.87" stroke="#000" stroke-width="1.05"/>
<line x1="349.85" y1="27.28" x2="352.92" y2="27.28" stroke="#151515" stroke-width="1"/>
<line x1="349.85" y1="30.87" x2="352.92" y2="30.87" stroke="#151515" stroke-width="1"/>
<line x1="355.03" y1="38.4" x2="355.03" y2="40.55" stroke="#000" stroke-width="1.05"/>
<line x1="353.5" y1="38.4" x2="356.57" y2="38.4" stroke="#151515" stroke-width="1"/>
<line x1="353.5" y1="40.55" x2="356.57" y2="40.55" stroke="#151515" stroke-width="1"/>
<line x1="358.69" y1="47.44" x2="358.69" y2="48.59" stroke="#000" stroke-width="1.05"/>
<line x1="357.15" y1="47.44" x2="360.22" y2="47.44" stroke="#151515" stroke-width="1"/>
<line x1="357.15" y1="48.59" x2="360.22" y2="48.59" stroke="#151515" stroke-width="1"/>
<line x1="368.39" y1="37.32" x2="368.39" y2="38.47" stroke="#000" stroke-width="1.05"/>
<line x1="366.86" y1="37.32" x2="369.93" y2="37.32" stroke="#151515" stroke-width="1"/>
<line x1="366.86" y1="38.47" x2="369.93" y2="38.47" stroke="#151515" stroke-width="1"/>
<line x1="372.04" y1="25.85" x2="372.04" y2="26.99" stroke="#000" stroke-width="1.05"/>
<line x1="370.51" y1="25.85" x2="373.58" y2="25.85" stroke="#151515" stroke-width="1"/>
<line x1="370.51" y1="26.99" x2="373.58" y2="26.99" stroke="#151515" stroke-width="1"/>
<line x1="375.69" y1="40.05" x2="375.69" y2="41.2" stroke="#000" stroke-width="1.05"/>
<line x1="374.16" y1="40.05" x2="377.23" y2="40.05" stroke="#151515" stroke-width="1"/>
<line x1="374.16" y1="41.2" x2="377.23" y2="41.2" stroke="#151515" stroke-width="1"/>
<line x1="385.4" y1="38.04" x2="385.4" y2="39.19" stroke="#000" stroke-width="1.05"/>
<line x1="383.87" y1="38.04" x2="386.94" y2="38.04" stroke="#151515" stroke-width="1"/>
<line x1="383.87" y1="39.19" x2="386.94" y2="39.19" stroke="#151515" stroke-width="1"/>
<line x1="389.05" y1="36.75" x2="389.05" y2="46.79" stroke="#000" stroke-width="1.05"/>
<line x1="387.52" y1="36.75" x2="390.59" y2="36.75" stroke="#151515" stroke-width="1"/>
<line x1="387.52" y1="46.79" x2="390.59" y2="46.79" stroke="#151515" stroke-width="1"/>
<line x1="392.7" y1="45" x2="392.7" y2="51.46" stroke="#000" stroke-width="1.05"/>
<line x1="391.17" y1="45" x2="394.24" y2="45" stroke="#151515" stroke-width="1"/>
<line x1="391.17" y1="51.46" x2="394.24" y2="51.46" stroke="#151515" stroke-width="1"/>
<line x1="402.41" y1="38.62" x2="402.41" y2="39.76" stroke="#000" stroke-width="1.05"/>
<line x1="400.88" y1="38.62" x2="403.95" y2="38.62" stroke="#151515" stroke-width="1"/>
<line x1="400.88" y1="39.76" x2="403.95" y2="39.76" stroke="#151515" stroke-width="1"/>
<line x1="406.06" y1="44.71" x2="406.06" y2="45.86" stroke="#000" stroke-width="1.05"/>
<line x1="404.53" y1="44.71" x2="407.6" y2="44.71" stroke="#151515" stroke-width="1"/>
<line x1="404.53" y1="45.86" x2="407.6" y2="45.86" stroke="#151515" stroke-width="1"/>
<line x1="409.71" y1="37.04" x2="409.71" y2="41.34" stroke="#000" stroke-width="1.05"/>
<line x1="408.18" y1="37.04" x2="411.25" y2="37.04" stroke="#151515" stroke-width="1"/>
<line x1="408.18" y1="41.34" x2="411.25" y2="41.34" stroke="#151515" stroke-width="1"/>
<line x1="419.43" y1="35.6" x2="419.43" y2="42.78" stroke="#000" stroke-width="1.05"/>
<line x1="417.89" y1="35.6" x2="420.96" y2="35.6" stroke="#151515" stroke-width="1"/>
<line x1="417.89" y1="42.78" x2="420.96" y2="42.78" stroke="#151515" stroke-width="1"/>
<line x1="423.07" y1="40.05" x2="423.07" y2="41.2" stroke="#000" stroke-width="1.05"/>
<line x1="421.54" y1="40.05" x2="424.61" y2="40.05" stroke="#151515" stroke-width="1"/>
<line x1="421.54" y1="41.2" x2="424.61" y2="41.2" stroke="#151515" stroke-width="1"/>
<line x1="426.73" y1="51.46" x2="426.73" y2="52.6" stroke="#000" stroke-width="1.05"/>
<line x1="425.19" y1="51.46" x2="428.26" y2="51.46" stroke="#151515" stroke-width="1"/>
<line x1="425.19" y1="52.6" x2="428.26" y2="52.6" stroke="#151515" stroke-width="1"/>
<line x1="436.44" y1="45.43" x2="436.44" y2="46.58" stroke="#000" stroke-width="1.05"/>
<line x1="434.9" y1="45.43" x2="437.97" y2="45.43" stroke="#151515" stroke-width="1"/>
<line x1="434.9" y1="46.58" x2="437.97" y2="46.58" stroke="#151515" stroke-width="1"/>
<line x1="453.44" y1="36.32" x2="453.44" y2="42.06" stroke="#000" stroke-width="1.05"/>
<line x1="451.91" y1="36.32" x2="454.98" y2="36.32" stroke="#151515" stroke-width="1"/>
<line x1="451.91" y1="42.06" x2="454.98" y2="42.06" stroke="#151515" stroke-width="1"/>
<line x1="457.09" y1="40.05" x2="457.09" y2="41.2" stroke="#000" stroke-width="1.05"/>
<line x1="455.56" y1="40.05" x2="458.63" y2="40.05" stroke="#151515" stroke-width="1"/>
<line x1="455.56" y1="41.2" x2="458.63" y2="41.2" stroke="#151515" stroke-width="1"/>
<line x1="460.75" y1="50.74" x2="460.75" y2="51.89" stroke="#000" stroke-width="1.05"/>
<line x1="459.21" y1="50.74" x2="462.28" y2="50.74" stroke="#151515" stroke-width="1"/>
<line x1="459.21" y1="51.89" x2="462.28" y2="51.89" stroke="#151515" stroke-width="1"/>
<line x1="470.45" y1="30.37" x2="470.45" y2="34.67" stroke="#000" stroke-width="1.05"/>
<line x1="468.92" y1="30.37" x2="471.99" y2="30.37" stroke="#151515" stroke-width="1"/>
<line x1="468.92" y1="34.67" x2="471.99" y2="34.67" stroke="#151515" stroke-width="1"/>
<line x1="474.1" y1="44" x2="474.1" y2="45.14" stroke="#000" stroke-width="1.05"/>
<line x1="472.57" y1="44" x2="475.64" y2="44" stroke="#151515" stroke-width="1"/>
<line x1="472.57" y1="45.14" x2="475.64" y2="45.14" stroke="#151515" stroke-width="1"/>
<line x1="477.75" y1="30.58" x2="477.75" y2="31.73" stroke="#000" stroke-width="1.05"/>
<line x1="476.22" y1="30.58" x2="479.29" y2="30.58" stroke="#151515" stroke-width="1"/>
<line x1="476.22" y1="31.73" x2="479.29" y2="31.73" stroke="#151515" stroke-width="1"/>
<line x1="487.46" y1="42.56" x2="487.46" y2="49.02" stroke="#000" stroke-width="1.05"/>
<line x1="485.93" y1="42.56" x2="489" y2="42.56" stroke="#151515" stroke-width="1"/>
<line x1="485.93" y1="49.02" x2="489" y2="49.02" stroke="#151515" stroke-width="1"/>
<line x1="491.11" y1="39.84" x2="491.11" y2="40.98" stroke="#000" stroke-width="1.05"/>
<line x1="489.58" y1="39.84" x2="492.65" y2="39.84" stroke="#151515" stroke-width="1"/>
<line x1="489.58" y1="40.98" x2="492.65" y2="40.98" stroke="#151515" stroke-width="1"/>
<line x1="494.76" y1="30.29" x2="494.76" y2="33.16" stroke="#000" stroke-width="1.05"/>
<line x1="493.23" y1="30.29" x2="496.3" y2="30.29" stroke="#151515" stroke-width="1"/>
<line x1="493.23" y1="33.16" x2="496.3" y2="33.16" stroke="#151515" stroke-width="1"/>
<line x1="504.47" y1="36.18" x2="504.47" y2="37.61" stroke="#000" stroke-width="1.05"/>
<line x1="502.94" y1="36.18" x2="506.01" y2="36.18" stroke="#151515" stroke-width="1"/>
<line x1="502.94" y1="37.61" x2="506.01" y2="37.61" stroke="#151515" stroke-width="1"/>
<line x1="508.12" y1="42.85" x2="508.12" y2="46.43" stroke="#000" stroke-width="1.05"/>
<line x1="506.59" y1="42.85" x2="509.66" y2="42.85" stroke="#151515" stroke-width="1"/>
<line x1="506.59" y1="46.43" x2="509.66" y2="46.43" stroke="#151515" stroke-width="1"/>
<line x1="511.77" y1="40.34" x2="511.77" y2="43.92" stroke="#000" stroke-width="1.05"/>
<line x1="510.24" y1="40.34" x2="513.31" y2="40.34" stroke="#151515" stroke-width="1"/>
<line x1="510.24" y1="43.92" x2="513.31" y2="43.92" stroke="#151515" stroke-width="1"/>
<line x1="295.5" y1="18.1" x2="295.5" y2="126.2" stroke="#8c8c8c" stroke-width="1"/>
<line x1="295" y1="125.7" x2="516.63" y2="125.7" stroke="#8c8c8c" stroke-width="1"/>
<line x1="293.2" y1="125.7" x2="295.5" y2="125.7" stroke="#8c8c8c" stroke-width="0.9"/>
<text x="291.4" y="128.1" font-size="6.8" text-anchor="end" fill="#111" font-weight="normal" textLength="3.4" lengthAdjust="spacingAndGlyphs" stroke="#111" stroke-width="0.42">0</text>
<line x1="293.2" y1="107.77" x2="295.5" y2="107.77" stroke="#8c8c8c" stroke-width="0.9"/>
<text x="291.4" y="110.17" font-size="6.8" text-anchor="end" fill="#111" font-weight="normal" textLength="6.8" lengthAdjust="spacingAndGlyphs" stroke="#111" stroke-width="0.42">25</text>
<line x1="293.2" y1="89.83" x2="295.5" y2="89.83" stroke="#8c8c8c" stroke-width="0.9"/>
<text x="291.4" y="92.23" font-size="6.8" text-anchor="end" fill="#111" font-weight="normal" textLength="6.8" lengthAdjust="spacingAndGlyphs" stroke="#111" stroke-width="0.42">50</text>
<line x1="293.2" y1="71.9" x2="295.5" y2="71.9" stroke="#8c8c8c" stroke-width="0.9"/>
<text x="291.4" y="74.3" font-size="6.8" text-anchor="end" fill="#111" font-weight="normal" textLength="6.8" lengthAdjust="spacingAndGlyphs" stroke="#111" stroke-width="0.42">75</text>
<line x1="293.2" y1="53.97" x2="295.5" y2="53.97" stroke="#8c8c8c" stroke-width="0.9"/>
<text x="291.4" y="56.37" font-size="6.8" text-anchor="end" fill="#111" font-weight="normal" textLength="10.2" lengthAdjust="spacingAndGlyphs" stroke="#111" stroke-width="0.42">100</text>
<line x1="293.2" y1="36.03" x2="295.5" y2="36.03" stroke="#8c8c8c" stroke-width="0.9"/>
<text x="291.4" y="38.43" font-size="6.8" text-anchor="end" fill="#111" font-weight="normal" textLength="10.2" lengthAdjust="spacingAndGlyphs" stroke="#111" stroke-width="0.42">125</text>
<line x1="293.2" y1="18.1" x2="295.5" y2="18.1" stroke="#8c8c8c" stroke-width="0.9"/>
<text x="291.4" y="20.5" font-size="6.8" text-anchor="end" fill="#111" font-weight="normal" textLength="10.2" lengthAdjust="spacingAndGlyphs" stroke="#111" stroke-width="0.42">150</text>
<line x1="295.5" y1="125.7" x2="295.5" y2="127.5" stroke="#8c8c8c" stroke-width="0.9"/>
<line x1="312.51" y1="125.7" x2="312.51" y2="127.5" stroke="#8c8c8c" stroke-width="0.9"/>
<line x1="329.52" y1="125.7" x2="329.52" y2="127.5" stroke="#8c8c8c" stroke-width="0.9"/>
<line x1="346.53" y1="125.7" x2="346.53" y2="127.5" stroke="#8c8c8c" stroke-width="0.9"/>
<line x1="363.54" y1="125.7" x2="363.54" y2="127.5" stroke="#8c8c8c" stroke-width="0.9"/>
<line x1="380.55" y1="125.7" x2="380.55" y2="127.5" stroke="#8c8c8c" stroke-width="0.9"/>
<line x1="397.56" y1="125.7" x2="397.56" y2="127.5" stroke="#8c8c8c" stroke-width="0.9"/>
<line x1="414.57" y1="125.7" x2="414.57" y2="127.5" stroke="#8c8c8c" stroke-width="0.9"/>
<line x1="431.58" y1="125.7" x2="431.58" y2="127.5" stroke="#8c8c8c" stroke-width="0.9"/>
<line x1="448.59" y1="125.7" x2="448.59" y2="127.5" stroke="#8c8c8c" stroke-width="0.9"/>
<line x1="465.6" y1="125.7" x2="465.6" y2="127.5" stroke="#8c8c8c" stroke-width="0.9"/>
<line x1="482.61" y1="125.7" x2="482.61" y2="127.5" stroke="#8c8c8c" stroke-width="0.9"/>
<line x1="499.62" y1="125.7" x2="499.62" y2="127.5" stroke="#8c8c8c" stroke-width="0.9"/>
<line x1="516.63" y1="125.7" x2="516.63" y2="127.5" stroke="#8c8c8c" stroke-width="0.9"/>
<text x="307" y="130.7" font-size="7" text-anchor="end" fill="#111" font-weight="normal" textLength="37.32" lengthAdjust="spacingAndGlyphs" transform="rotate(-40 307 130.7)" stroke="#111" stroke-width="0.42">scramble_CTL</text>
<text x="324.01" y="130.7" font-size="7" text-anchor="end" fill="#111" font-weight="normal" textLength="38.6" lengthAdjust="spacingAndGlyphs" transform="rotate(-40 324.01 130.7)" stroke="#111" stroke-width="0.42">shlncRNA-EC6</text>
<text x="341.02" y="130.7" font-size="7" text-anchor="end" fill="#111" font-weight="normal" textLength="35.73" lengthAdjust="spacingAndGlyphs" transform="rotate(-40 341.02 130.7)" stroke="#111" stroke-width="0.42">elncRNA-EC1</text>
<text x="358.04" y="130.7" font-size="7" text-anchor="end" fill="#111" font-weight="normal" textLength="33.81" lengthAdjust="spacingAndGlyphs" transform="rotate(-40 358.04 130.7)" stroke="#111" stroke-width="0.42">lincRNA-EC2</text>
<text x="375.05" y="130.7" font-size="7" text-anchor="end" fill="#111" font-weight="normal" textLength="33.81" lengthAdjust="spacingAndGlyphs" transform="rotate(-40 375.05 130.7)" stroke="#111" stroke-width="0.42">lincRNA-EC4</text>
<text x="392.06" y="130.7" font-size="7" text-anchor="end" fill="#111" font-weight="normal" textLength="33.81" lengthAdjust="spacingAndGlyphs" transform="rotate(-40 392.06 130.7)" stroke="#111" stroke-width="0.42">lincRNA-EC5</text>
<text x="409.06" y="130.7" font-size="7" text-anchor="end" fill="#111" font-weight="normal" textLength="33.81" lengthAdjust="spacingAndGlyphs" transform="rotate(-40 409.06 130.7)" stroke="#111" stroke-width="0.42">lincRNA-EC8</text>
<text x="426.08" y="130.7" font-size="7" text-anchor="end" fill="#111" font-weight="normal" textLength="33.81" lengthAdjust="spacingAndGlyphs" transform="rotate(-40 426.08 130.7)" stroke="#111" stroke-width="0.42">lincRNA-EC9</text>
<text x="443.09" y="130.7" font-size="7" text-anchor="end" fill="#111" font-weight="normal" textLength="35.73" lengthAdjust="spacingAndGlyphs" transform="rotate(-40 443.09 130.7)" stroke="#111" stroke-width="0.42">alncRNA-EC1</text>
<text x="460.1" y="130.7" font-size="7" text-anchor="end" fill="#111" font-weight="normal" textLength="35.73" lengthAdjust="spacingAndGlyphs" transform="rotate(-40 460.1 130.7)" stroke="#111" stroke-width="0.42">alncRNA-EC2</text>
<text x="477.11" y="130.7" font-size="7" text-anchor="end" fill="#111" font-weight="normal" textLength="35.73" lengthAdjust="spacingAndGlyphs" transform="rotate(-40 477.11 130.7)" stroke="#111" stroke-width="0.42">alncRNA-EC3</text>
<text x="494.12" y="130.7" font-size="7" text-anchor="end" fill="#111" font-weight="normal" textLength="35.73" lengthAdjust="spacingAndGlyphs" transform="rotate(-40 494.12 130.7)" stroke="#111" stroke-width="0.42">elncRNA-EC3</text>
<text x="511.12" y="130.7" font-size="7" text-anchor="end" fill="#111" font-weight="normal" textLength="35.73" lengthAdjust="spacingAndGlyphs" transform="rotate(-40 511.12 130.7)" stroke="#111" stroke-width="0.42">alncRNA-EC7</text>
<text x="275.8" y="72.8" font-size="6.4" text-anchor="middle" fill="#111" font-weight="normal" textLength="54.5" lengthAdjust="spacingAndGlyphs" transform="rotate(-90 275.8 72.8)" stroke="#111" stroke-width="0.42">Relative cell  size (%)</text>
<rect x="490.4" y="-0.2" width="6.7" height="6.5" fill="#4f81bd"/>
<text x="499.8" y="5.7" font-size="6.8" text-anchor="start" fill="#111" font-weight="normal" textLength="20" lengthAdjust="spacingAndGlyphs" stroke="#111" stroke-width="0.42">shRNA1</text>
<rect x="490.4" y="9.3" width="6.7" height="6.5" fill="#c0504d"/>
<text x="499.8" y="15.2" font-size="6.8" text-anchor="start" fill="#111" font-weight="normal" textLength="20" lengthAdjust="spacingAndGlyphs" stroke="#111" stroke-width="0.42">shRNA2</text>
<rect x="490.4" y="18.8" width="6.7" height="6.5" fill="#9bbb59"/>
<text x="499.8" y="24.7" font-size="6.8" text-anchor="start" fill="#111" font-weight="normal" textLength="20" lengthAdjust="spacingAndGlyphs" stroke="#111" stroke-width="0.42">shRNA3</text>
<text x="268" y="9.5" font-size="11.6" text-anchor="start" fill="#000" font-weight="bold" textLength="8.38" lengthAdjust="spacingAndGlyphs" stroke="#000" stroke-width="0.3">C</text>
<text x="268.2" y="176.1" font-size="11.6" text-anchor="start" fill="#000" font-weight="bold" textLength="8.38" lengthAdjust="spacingAndGlyphs" stroke="#000" stroke-width="0.3">D</text>
<rect x="292.4" y="180.8" width="33.6" height="7.3" fill="#bbbbbb"/>
<path d="M294.6 184.55 L297.6 182.75 L297.6 186.35 Z" fill="#fff"/>
<text x="299.4" y="186.5" font-size="6.6" text-anchor="start" fill="#1a1a1a" font-weight="bold" textLength="19.4" lengthAdjust="spacingAndGlyphs">Spryd7</text>
<line x1="326" y1="184.55" x2="362" y2="184.55" stroke="#444" stroke-width="0.8"/>
<path d="M326.2 184.55 L329.5 183.35 L329.5 185.75 Z" fill="#444"/>
<text x="349.2" y="182.7" font-size="5.2" text-anchor="middle" fill="#222" font-weight="normal" textLength="11.5" lengthAdjust="spacingAndGlyphs" stroke="#222" stroke-width="0.42">49kb</text>
<rect x="361.9" y="180.8" width="43.8" height="7.1" fill="#111"/>
<path d="M363 184.55 L366 182.75 L366 186.35 Z" fill="#fff"/>
<text x="366.2" y="186.5" font-size="6.6" text-anchor="start" fill="#fff" font-weight="bold" textLength="38.5" lengthAdjust="spacingAndGlyphs">shlncRNA-EC6</text>
<rect x="292.4" y="267.2" width="33.6" height="7.3" fill="#bbbbbb"/>
<path d="M297.6 270.95 L301.3 268.85 L301.3 273.05 Z" fill="#fff"/>
<text x="303.2" y="273.1" font-size="7" text-anchor="start" fill="#1a1a1a" font-weight="bold" textLength="15" lengthAdjust="spacingAndGlyphs">Kif2a</text>
<line x1="326" y1="270.95" x2="362" y2="270.95" stroke="#444" stroke-width="0.8"/>
<path d="M326.2 270.95 L329.5 269.75 L329.5 272.15 Z" fill="#444"/>
<text x="344.3" y="269.1" font-size="5.2" text-anchor="middle" fill="#222" font-weight="normal" textLength="11.5" lengthAdjust="spacingAndGlyphs" stroke="#222" stroke-width="0.42">40kb</text>
<rect x="361.9" y="267.2" width="43.8" height="7.1" fill="#111"/>
<path d="M404.3 270.95 L400.6 268.85 L400.6 273.05 Z" fill="#fff"/>
<text x="364.8" y="272.9" font-size="6.6" text-anchor="start" fill="#fff" font-weight="bold" textLength="35.4" lengthAdjust="spacingAndGlyphs">elncRNA-EC3</text>
<line x1="292.8" y1="193.7" x2="292.8" y2="241.8" stroke="#999" stroke-width="1"/>
<line x1="292.3" y1="241.3" x2="405.7" y2="241.3" stroke="#999" stroke-width="1"/>
<text x="288.8" y="204.3" font-size="6" text-anchor="end" fill="#111" font-weight="normal" textLength="8.4" lengthAdjust="spacingAndGlyphs" stroke="#111" stroke-width="0.42">1.0</text>
<text x="288.8" y="223.85" font-size="6" text-anchor="end" fill="#111" font-weight="normal" textLength="8.4" lengthAdjust="spacingAndGlyphs" stroke="#111" stroke-width="0.42">0.5</text>
<text x="289.8" y="242.7" font-size="6" text-anchor="end" fill="#111" font-weight="normal" textLength="3.2" lengthAdjust="spacingAndGlyphs" stroke="#111" stroke-width="0.42">0</text>
<line x1="311.3" y1="208.46" x2="311.3" y2="222.53" stroke="#000" stroke-width="1.16"/>
<line x1="310.5" y1="208.46" x2="312.1" y2="208.46" stroke="#151515" stroke-width="1.1"/>
<line x1="310.5" y1="222.53" x2="312.1" y2="222.53" stroke="#151515" stroke-width="1.1"/>
<line x1="348.9" y1="195.55" x2="348.9" y2="207.28" stroke="#000" stroke-width="1.16"/>
<line x1="348.1" y1="195.55" x2="349.7" y2="195.55" stroke="#151515" stroke-width="1.1"/>
<line x1="348.1" y1="207.28" x2="349.7" y2="207.28" stroke="#151515" stroke-width="1.1"/>
<polyline points="311.3,239.74 348.9,237.78 386.8,200.24" fill="none" stroke="#111" stroke-width="2.1" stroke-linejoin="miter"/>
<polyline points="311.3,215.49 348.9,201.42 386.8,238.56" fill="none" stroke="#b4b4b4" stroke-width="2.1" stroke-linejoin="miter"/>
<text x="311.3" y="249.1" font-size="6.4" text-anchor="middle" fill="#111" font-weight="normal" textLength="15.6" lengthAdjust="spacingAndGlyphs" stroke="#111" stroke-width="0.42">BFU-E</text>
<text x="348.9" y="249.1" font-size="6.4" text-anchor="middle" fill="#111" font-weight="normal" textLength="16.2" lengthAdjust="spacingAndGlyphs" stroke="#111" stroke-width="0.42">CFU-E</text>
<text x="386.8" y="249.1" font-size="6.4" text-anchor="middle" fill="#111" font-weight="normal" textLength="9.2" lengthAdjust="spacingAndGlyphs" stroke="#111" stroke-width="0.42">ERY</text>
<text x="275.6" y="217.5" font-size="6.3" text-anchor="middle" fill="#111" font-weight="normal" textLength="66" lengthAdjust="spacingAndGlyphs" transform="rotate(-90 275.6 217.5)" stroke="#111" stroke-width="0.42">Normalized expression</text>
<line x1="292.8" y1="279.9" x2="292.8" y2="329.1" stroke="#999" stroke-width="1"/>
<line x1="292.3" y1="328.6" x2="405.7" y2="328.6" stroke="#999" stroke-width="1"/>
<text x="288.8" y="291" font-size="6" text-anchor="end" fill="#111" font-weight="normal" textLength="8.4" lengthAdjust="spacingAndGlyphs" stroke="#111" stroke-width="0.42">1.0</text>
<text x="288.8" y="310.85" font-size="6" text-anchor="end" fill="#111" font-weight="normal" textLength="8.4" lengthAdjust="spacingAndGlyphs" stroke="#111" stroke-width="0.42">0.5</text>
<text x="289.8" y="330" font-size="6" text-anchor="end" fill="#111" font-weight="normal" textLength="3.2" lengthAdjust="spacingAndGlyphs" stroke="#111" stroke-width="0.42">0</text>
<line x1="311.3" y1="308.75" x2="311.3" y2="311.13" stroke="#000" stroke-width="1.16"/>
<line x1="310.5" y1="308.75" x2="312.1" y2="308.75" stroke="#151515" stroke-width="1.1"/>
<line x1="310.5" y1="311.13" x2="312.1" y2="311.13" stroke="#151515" stroke-width="1.1"/>
<line x1="386.8" y1="282.94" x2="386.8" y2="294.06" stroke="#000" stroke-width="1.16"/>
<line x1="386" y1="282.94" x2="387.6" y2="282.94" stroke="#151515" stroke-width="1.1"/>
<line x1="386" y1="294.06" x2="387.6" y2="294.06" stroke="#151515" stroke-width="1.1"/>
<polyline points="311.3,328.6 348.9,327.81 386.8,290.09" fill="none" stroke="#444" stroke-width="2.1" stroke-linejoin="miter"/>
<polyline points="311.3,309.94 348.9,309.94 386.8,288.5" fill="none" stroke="#b4b4b4" stroke-width="2.1" stroke-linejoin="miter"/>
<text x="311.3" y="336.7" font-size="6.4" text-anchor="middle" fill="#111" font-weight="normal" textLength="15.6" lengthAdjust="spacingAndGlyphs" stroke="#111" stroke-width="0.42">BFU-E</text>
<text x="348.9" y="336.7" font-size="6.4" text-anchor="middle" fill="#111" font-weight="normal" textLength="16.2" lengthAdjust="spacingAndGlyphs" stroke="#111" stroke-width="0.42">CFU-E</text>
<text x="386.8" y="336.7" font-size="6.4" text-anchor="middle" fill="#111" font-weight="normal" textLength="9.2" lengthAdjust="spacingAndGlyphs" stroke="#111" stroke-width="0.42">ERY</text>
<text x="275.6" y="305.5" font-size="6.3" text-anchor="middle" fill="#111" font-weight="normal" textLength="66" lengthAdjust="spacingAndGlyphs" transform="rotate(-90 275.6 305.5)" stroke="#111" stroke-width="0.42">Normalized expression</text>
<line x1="441" y1="176.1" x2="441" y2="242" stroke="#999" stroke-width="1"/>
<line x1="440.5" y1="241.5" x2="517.5" y2="241.5" stroke="#999" stroke-width="1"/>
<text x="438.5" y="243.7" font-size="6.4" text-anchor="end" fill="#111" font-weight="normal" textLength="3.4" lengthAdjust="spacingAndGlyphs" stroke="#111" stroke-width="0.42">0</text>
<text x="438.5" y="216.8" font-size="6.4" text-anchor="end" fill="#111" font-weight="normal" textLength="3.4" lengthAdjust="spacingAndGlyphs" stroke="#111" stroke-width="0.42">5</text>
<text x="438.5" y="189.9" font-size="6.4" text-anchor="end" fill="#111" font-weight="normal" textLength="6.8" lengthAdjust="spacingAndGlyphs" stroke="#111" stroke-width="0.42">10</text>
<rect x="447.1" y="235.42" width="9.3" height="6.08" fill="#4f81bd"/>
<rect x="484.5" y="220.52" width="9" height="20.98" fill="#4f81bd"/>
<rect x="493.5" y="200.07" width="8" height="41.43" fill="#c0504d"/>
<rect x="501.5" y="192.54" width="8.5" height="48.96" fill="#9bbb59"/>
<line x1="444.83" y1="236.62" x2="517.6" y2="236.62" stroke="#c0c0c0" stroke-width="1.4" stroke-dasharray="2.1 2.61"/>
<line x1="451.75" y1="232.19" x2="451.75" y2="238.65" stroke="#1a1a1a" stroke-width="0.8"/>
<line x1="489" y1="218.63" x2="489" y2="222.4" stroke="#1a1a1a" stroke-width="0.8"/>
<line x1="497.5" y1="192.54" x2="497.5" y2="207.61" stroke="#1a1a1a" stroke-width="0.8"/>
<line x1="505.75" y1="185.55" x2="505.75" y2="199.54" stroke="#1a1a1a" stroke-width="0.8"/>
<text x="425.6" y="208.8" font-size="6.3" text-anchor="middle" fill="#111" font-weight="normal" textLength="54" lengthAdjust="spacingAndGlyphs" transform="rotate(-90 425.6 208.8)" stroke="#111" stroke-width="0.42">Relative expression</text>
<text x="477.6" y="179.9" font-size="6.8" text-anchor="middle" fill="#111" font-weight="normal" textLength="19" lengthAdjust="spacingAndGlyphs" font-style="italic" stroke="#111" stroke-width="0.3">Spryd7</text>
<text x="419.7" y="249.4" font-size="6.3" text-anchor="start" fill="#111" font-weight="normal" textLength="8.8" lengthAdjust="spacingAndGlyphs" stroke="#111" stroke-width="0.42">KD:</text>
<text x="433.1" y="249.4" font-size="6.3" text-anchor="start" fill="#111" font-weight="normal" textLength="35.8" lengthAdjust="spacingAndGlyphs" stroke="#111" stroke-width="0.42">scramble_CTL</text>
<text x="480.1" y="249.4" font-size="6.4" text-anchor="start" fill="#111" font-weight="normal" textLength="37" lengthAdjust="spacingAndGlyphs" stroke="#111" stroke-width="0.42">shlncRNA-EC6</text>
<line x1="441" y1="266.4" x2="441" y2="328.1" stroke="#999" stroke-width="1"/>
<line x1="440.5" y1="327.6" x2="511.8" y2="327.6" stroke="#999" stroke-width="1"/>
<text x="438.5" y="329.8" font-size="6.4" text-anchor="end" fill="#111" font-weight="normal" textLength="3.4" lengthAdjust="spacingAndGlyphs" stroke="#111" stroke-width="0.42">0</text>
<text x="438.5" y="304.6" font-size="6.4" text-anchor="end" fill="#111" font-weight="normal" textLength="8.4" lengthAdjust="spacingAndGlyphs" stroke="#111" stroke-width="0.42">0.5</text>
<text x="438.5" y="279.4" font-size="6.4" text-anchor="end" fill="#111" font-weight="normal" textLength="8.4" lengthAdjust="spacingAndGlyphs" stroke="#111" stroke-width="0.42">1.0</text>
<rect x="446.6" y="277.7" width="8.7" height="49.9" fill="#4f81bd"/>
<rect x="482.6" y="294.84" width="7.7" height="32.76" fill="#4f81bd"/>
<rect x="490.3" y="312.48" width="8" height="15.12" fill="#c0504d"/>
<rect x="498.3" y="308.45" width="8.2" height="19.15" fill="#9bbb59"/>
<line x1="444.83" y1="277.7" x2="517.6" y2="277.7" stroke="#c0c0c0" stroke-width="1.4" stroke-dasharray="2.1 2.61"/>
<line x1="450.95" y1="275.69" x2="450.95" y2="279.72" stroke="#1a1a1a" stroke-width="0.8"/>
<line x1="486.45" y1="293.83" x2="486.45" y2="295.85" stroke="#1a1a1a" stroke-width="0.8"/>
<line x1="494.3" y1="311.98" x2="494.3" y2="312.98" stroke="#1a1a1a" stroke-width="0.8"/>
<line x1="502.4" y1="307.94" x2="502.4" y2="308.95" stroke="#1a1a1a" stroke-width="0.8"/>
<text x="425.6" y="297" font-size="6.3" text-anchor="middle" fill="#111" font-weight="normal" textLength="54" lengthAdjust="spacingAndGlyphs" transform="rotate(-90 425.6 297)" stroke="#111" stroke-width="0.42">Relative expression</text>
<text x="477.5" y="268.9" font-size="6.3" text-anchor="middle" fill="#111" font-weight="normal" textLength="12.6" lengthAdjust="spacingAndGlyphs" stroke="#111" stroke-width="0.3">Kif2a</text>
<text x="419.7" y="336.5" font-size="6.3" text-anchor="start" fill="#111" font-weight="normal" textLength="8.8" lengthAdjust="spacingAndGlyphs" stroke="#111" stroke-width="0.42">KD:</text>
<text x="433.1" y="336.5" font-size="6.3" text-anchor="start" fill="#111" font-weight="normal" textLength="35.8" lengthAdjust="spacingAndGlyphs" stroke="#111" stroke-width="0.42">scramble_CTL</text>
<text x="476.8" y="336.5" font-size="6.4" text-anchor="start" fill="#111" font-weight="normal" textLength="34" lengthAdjust="spacingAndGlyphs" stroke="#111" stroke-width="0.42">elncRNA-EC3</text>
</svg>
</body></html>
